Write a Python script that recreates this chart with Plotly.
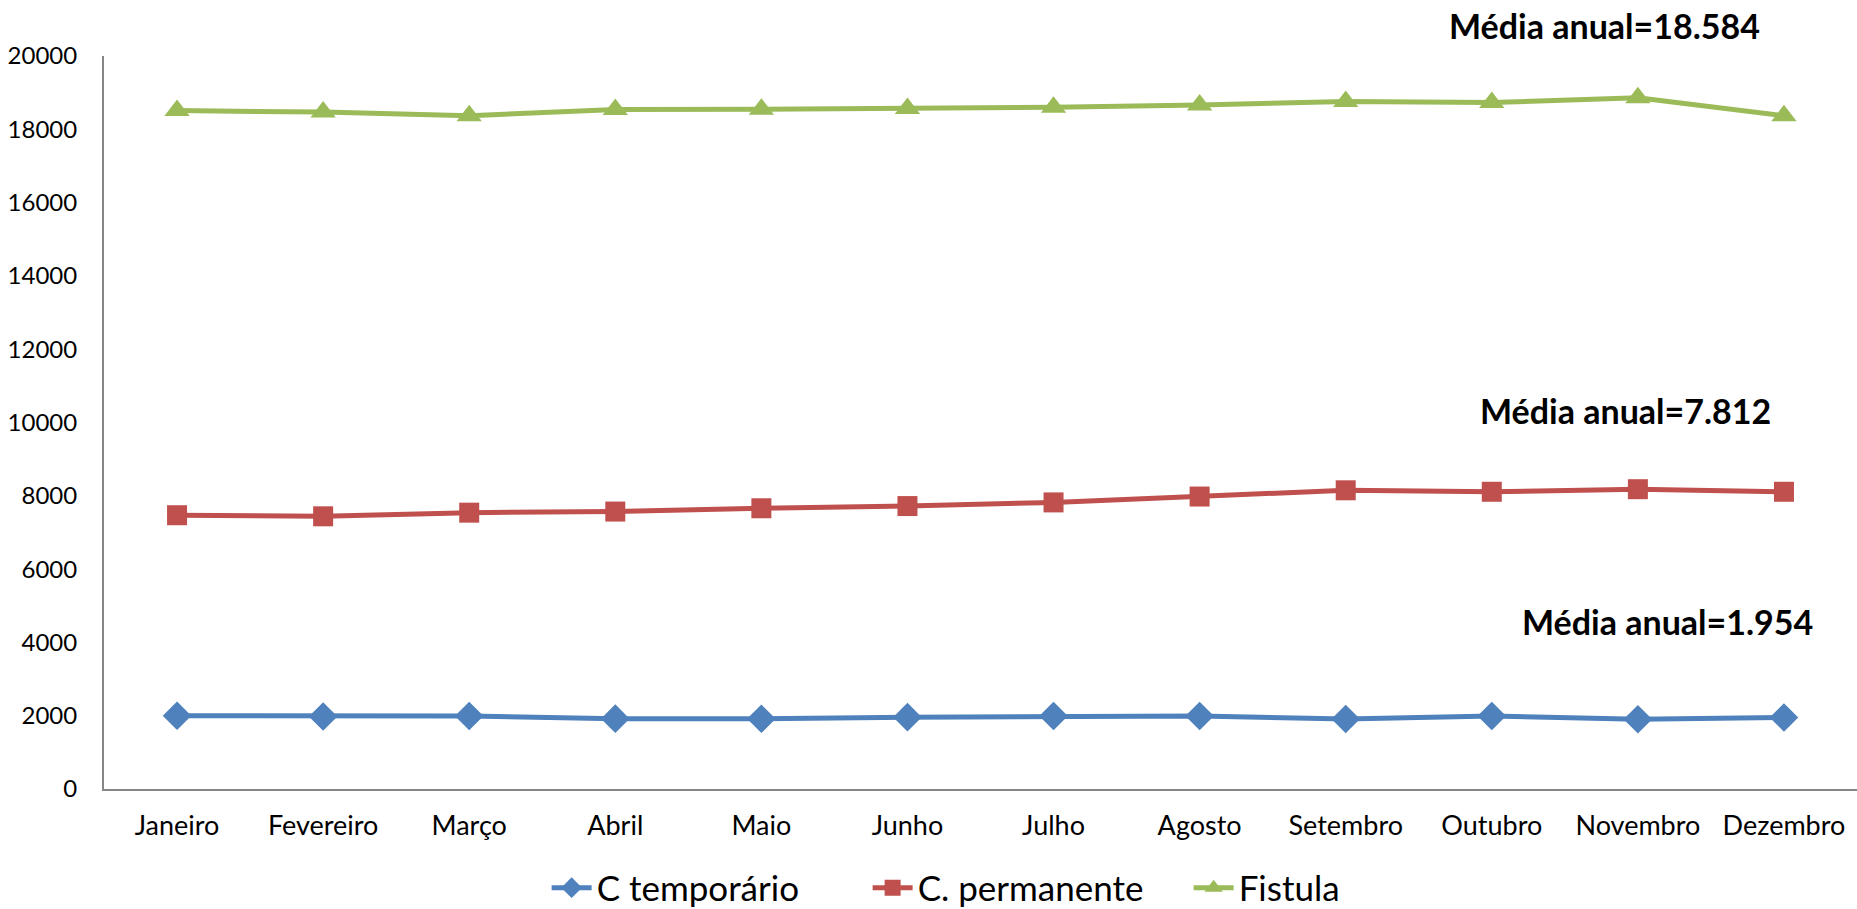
import plotly.graph_objects as go

months = ["Janeiro", "Fevereiro", "Março", "Abril", "Maio", "Junho", "Julho",
          "Agosto", "Setembro", "Outubro", "Novembro", "Dezembro"]
c_temporario = [2000, 1980, 1990, 1920, 1915, 1960, 1990, 1990, 1910, 1990, 1905, 1950]
c_permanente = [7470, 7440, 7540, 7570, 7660, 7720, 7820, 7980, 8150, 8110, 8180, 8110]
fistula = [18510, 18470, 18370, 18540, 18550, 18570, 18600, 18660, 18760, 18730, 18860, 18370]
annot_texts = ["Média anual=18.584", "Média anual=7.812", "Média anual=1.954"]

FONT = "Lato"
fig = go.Figure()
fig.add_trace(go.Scatter(x=months, y=c_temporario, name="C temporário", mode="lines+markers",
                         line=dict(color="#4F81BD", width=5),
                         marker=dict(symbol="diamond", size=22, color="#4F81BD")))
fig.add_trace(go.Scatter(x=months, y=c_permanente, name="C. permanente", mode="lines+markers",
                         line=dict(color="#C0504D", width=5),
                         marker=dict(symbol="square", size=20, color="#C0504D")))
fig.add_trace(go.Scatter(x=months, y=fistula, name="Fistula", mode="lines+markers",
                         line=dict(color="#9BBB59", width=5),
                         marker=dict(symbol="triangle-up", size=22, color="#9BBB59")))

ann_pos = [(0.856, 1.041), (0.868, 0.517), (0.892, 0.229)]
annotations = []
for t, (ax, ay) in zip(annot_texts, ann_pos):
    annotations.append(dict(text="<b>" + t + "</b>", xref="paper", yref="paper", x=ax, y=ay,
                            showarrow=False, xanchor="center", yanchor="middle",
                            font=dict(family=FONT, size=34, color="black")))

fig.update_layout(
    width=1857, height=909,
    margin=dict(l=104, r=0, t=56, b=120, autoexpand=False),
    plot_bgcolor="white", paper_bgcolor="white",
    font=dict(family=FONT, size=27, color="black"),
    showlegend=True,
    legend=dict(orientation="h", x=0.2525, y=-0.135, xanchor="left", yanchor="middle",
                font=dict(family=FONT, size=35, color="black"), itemwidth=40,
                entrywidth=266, entrywidthmode="pixels", traceorder="normal"),
    annotations=annotations,
)
fig.update_xaxes(showline=True, linecolor="#868686", linewidth=2, showgrid=False,
                 ticks="", tickfont=dict(size=27), range=[-0.5, 11.5], ticklabelstandoff=12,
                 automargin=False)
fig.update_yaxes(showline=True, linecolor="#868686", linewidth=2, showgrid=False,
                 range=[0, 20000], tickvals=list(range(0, 20001, 2000)), tickformat="d",
                 ticks="", zeroline=False, tickfont=dict(size=24), ticklabelstandoff=20,
                 automargin=False)

fig.write_html("out.html")
